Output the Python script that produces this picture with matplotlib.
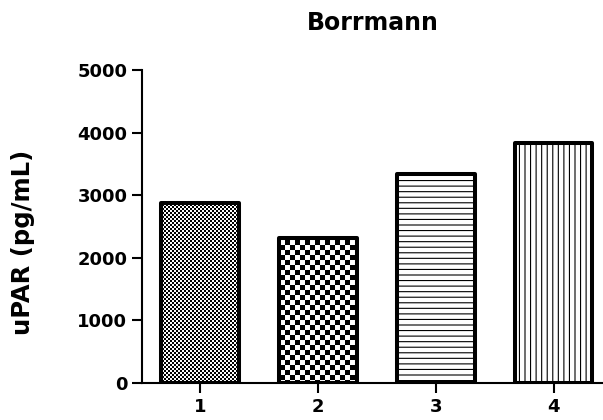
import numpy as np
import matplotlib
matplotlib.use("Agg")
import matplotlib.pyplot as plt
import matplotlib.hatch as mhatch
from matplotlib.path import Path

# ---- data ----
categories = ["1", "2", "3", "4"]
values = [2870, 2320, 3340, 3840]
title = "Borrmann"
ylabel = "uPAR (pg/mL)"
yticks = [0, 1000, 2000, 3000, 4000, 5000]
hatches = ["o", "O", "---", "|||"]
hatch_lws = [0.01, 0.01, 0.8, 0.8]


# ---- custom checkerboard hatch ('o' fine, 'O' coarse) ----
class CheckerHatch(mhatch.HatchPatternBase):
    def __init__(self, hatch, density):
        n = 20 * hatch.count("O") + 50 * hatch.count("o")
        if n % 2:
            n += 1
        self.n = n
        self.num_vertices = (n * n // 2) * 5 if n else 0

    def set_vertices_and_codes(self, vertices, codes):
        n = self.n
        s = 1.0 / n
        k = 0
        for i in range(n):
            for j in range(n):
                if (i + j) % 2 == 0:
                    x0, y0 = i * s, j * s
                    vertices[k:k + 5] = [[x0, y0], [x0 + s, y0], [x0 + s, y0 + s],
                                         [x0, y0 + s], [x0, y0]]
                    codes[k] = Path.MOVETO
                    codes[k + 1:k + 4] = Path.LINETO
                    codes[k + 4] = Path.CLOSEPOLY
                    k += 5


mhatch._hatch_types = [c for c in mhatch._hatch_types
                       if c not in (mhatch.SmallCircles, mhatch.LargeCircles)] + [CheckerHatch]

plt.rcParams["font.family"] = ["DejaVu Sans"]
plt.rcParams["font.weight"] = "bold"
plt.rcParams["hatch.color"] = "black"

fig = plt.figure(figsize=(6.03, 4.20), dpi=100)
ax = fig.add_axes([142 / 603, 37 / 420, 461 / 603, 313 / 420])

x = np.arange(1, len(values) + 1)
for xi, v, h, hlw in zip(x, values, hatches, hatch_lws):
    with plt.rc_context({"hatch.linewidth": hlw}):
        bars = ax.bar(xi, v, width=0.66, color="white", edgecolor="black",
                      linewidth=2.9, hatch=h, zorder=2)
    for b in bars:
        if hasattr(b, "set_hatch_linewidth"):
            b.set_hatch_linewidth(hlw)
        b.set_joinstyle("round")

ax.set_xlim(0.506, 4.42)
ax.set_ylim(0, 5000)
ax.set_xticks(x)
ax.set_xticklabels(categories)
ax.set_yticks(yticks)

for s in ["top", "right"]:
    ax.spines[s].set_visible(False)
for s in ["left", "bottom"]:
    ax.spines[s].set_linewidth(1.5)
    ax.spines[s].set_zorder(3)

ax.tick_params(axis="both", length=7, width=1.5, pad=3.5, labelsize=13, colors="black")
for lbl in ax.get_xticklabels() + ax.get_yticklabels():
    lbl.set_fontweight("bold")

ax.set_title(title, fontsize=17, fontweight="bold", pad=29)
ax.set_ylabel(ylabel, fontsize=17.5, fontweight="bold")
ax.yaxis.set_label_coords(-0.232, 0.45)

fig.savefig("out.png", dpi=100)
